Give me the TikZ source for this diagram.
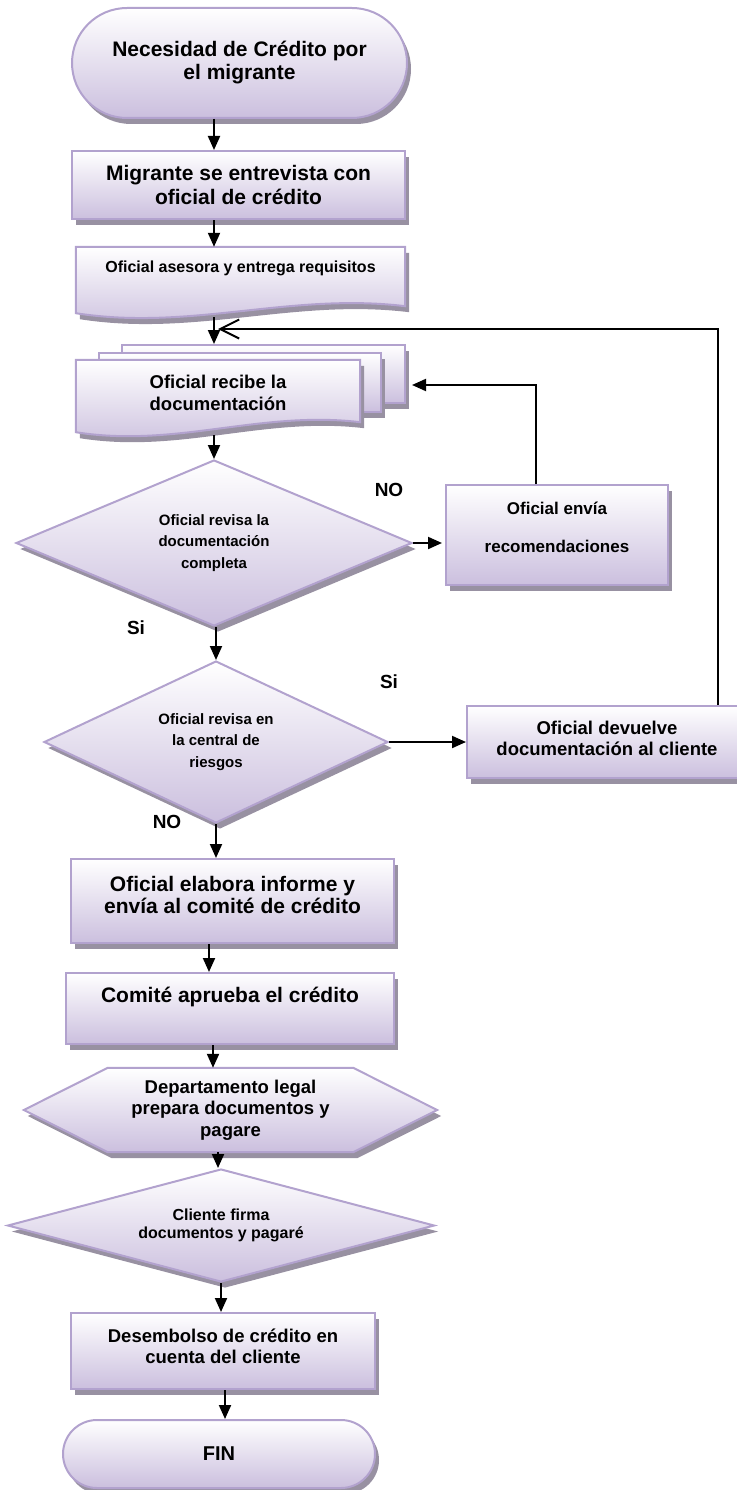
\documentclass[tikz,border=0pt]{standalone}
\usepackage{fontspec}
\setmainfont{Liberation Sans}
\usetikzlibrary{shapes.geometric, shapes.misc, shadows, arrows.meta, backgrounds}
\definecolor{borde}{RGB}{178,162,206}
\definecolor{lila}{RGB}{203,191,222}
\definecolor{sombra}{RGB}{152,145,162}

\begin{document}
\begin{tikzpicture}[x=1pt, y=-1pt,
  caja/.style={draw=borde, line width=2pt, top color=white, bottom color=lila,
    drop shadow={shadow xshift=4pt, shadow yshift=-6pt, fill=sombra, opacity=1}},
  fs/.style 2 args={font=\bfseries\fontsize{#1}{#2}\selectfont},
  rect/.style={caja, rectangle, inner sep=0pt},
  term/.style={caja, rounded rectangle, inner sep=0pt, align=center},
  deci/.style={caja, diamond, aspect=2.4, inner sep=0pt, align=center},
  texto/.style={inner sep=0pt},
  etiq/.style={fs={19}{21}, inner sep=0pt},
  flecha/.style={-{Triangle[length=14pt, width=12pt]}, line width=2pt},
  vuelta/.style={-{Straight Barb[length=19pt, width=19pt]}, line width=2pt}]
  \useasboundingbox (0,0) rectangle (736,1490);

  \node[term, fs={21}{23}, minimum width=335pt, minimum height=110pt] (inicio) at (239.5,63) {Necesidad de Crédito por\\el migrante};
  \node[rect, align=center, fs={21}{24}, minimum width=333pt, minimum height=68pt] (entrevista) at (238.5,185) {Migrante se entrevista con\\oficial de crédito};
  \node[texto, fs={16}{18}, minimum width=329pt, minimum height=66pt, text height=12pt, text depth=26.6pt] (asesora) at (240.5,280) {Oficial asesora y entrega requisitos};
  \node[texto, align=center, fs={18.5}{22}, minimum width=284pt, minimum height=72pt, text depth=6pt] (recibe) at (218,396) {Oficial recibe la\\documentación};
  \node[deci, fs={15}{21.5}, minimum width=396pt, minimum height=166pt] (rev1) at (214,543) {Oficial revisa la\\documentación\\completa};
  \node[rect, align=center, fs={17}{38}, minimum width=222pt, minimum height=100pt, text depth=16pt] (envia) at (557,535) {Oficial envía\\recomendaciones};
  \node[deci, fs={15}{21.5}, minimum width=344pt, minimum height=162pt] (rev2) at (216,742) {Oficial revisa en\\la central de\\riesgos};
  \node[rect, align=center, fs={18.5}{21}, minimum width=280pt, minimum height=72pt, text depth=8pt] (devuelve) at (607,742) {Oficial devuelve\\documentación al cliente};
  \node[rect, align=center, fs={21}{22.5}, minimum width=323pt, minimum height=84pt, text depth=12pt] (elabora) at (232.5,901) {Oficial elabora informe y\\envía al comité de crédito};
  \node[rect, fs={21}{23}, minimum width=328pt, minimum height=71pt, text height=15pt, text depth=27pt] (comite) at (230,1008.5) {Comité aprueba el crédito};
  \node[texto, align=center, fs={18.5}{21.5}, minimum width=413pt, minimum height=84pt] (legal) at (230.5,1110) {Departamento legal\\prepara documentos y\\pagare};
  \node[deci, fs={16}{18}, minimum width=427pt, minimum height=113pt] (firma) at (221,1225.5) {Cliente firma\\documentos y pagaré};
  \node[rect, align=center, fs={18.5}{21}, minimum width=304pt, minimum height=76pt, text depth=10pt] (desembolso) at (223,1351) {Desembolso de crédito en\\cuenta del cliente};
  \node[term, fs={20}{22}, minimum width=312pt, minimum height=68pt] (fin) at (219,1454) {FIN};

  \node[etiq] (no1) at (389,490) {NO};
  \node[etiq] (si1) at (136,628) {Si};
  \node[etiq] (si2) at (389,682) {Si};
  \node[etiq] (no2) at (167,822) {NO};

  \begin{scope}[on background layer]
    \node[rect, minimum width=283pt, minimum height=58pt] (pilaA) at (263.5,374) {};
    \node[rect, minimum width=282pt, minimum height=59pt] (pilaB) at (240,382.5) {};
    \path[caja] (recibe.north west) -- (recibe.north east) -- ([yshift=10pt]recibe.south east)
      .. controls +(-100,-12) and +(100,16) .. (recibe.south west) -- cycle;
    \path[caja] (asesora.north west) -- (asesora.north east) -- ([yshift=7pt]asesora.south east)
      .. controls +(-115,-14) and +(115,18) .. (asesora.south west) -- cycle;
    \path[caja] (legal.west) -- ([xshift=84pt]legal.north west) -- ([xshift=-84pt]legal.north east)
      -- (legal.east) -- ([xshift=-84pt]legal.south east) -- ([xshift=84pt]legal.south west) -- cycle;
  \end{scope}

  \coordinate (subida) at (536,385);
  \coordinate (retorno) at (718,329);
  \coordinate (union) at (218,329);

  \foreach \a/\b/\x/\s in {inicio/entrevista/214/0, entrevista/asesora/214/0, asesora/pilaA/214/4,
      recibe/rev1/214/3, rev1/rev2/216/0, rev2/elabora/216/0, elabora/comite/209/0,
      comite/legal/213/0, legal/firma/218/0, firma/desembolso/221/0, desembolso/fin/225/0}
  {
    \coordinate (col) at (\x,0);
    \draw[flecha, shorten <=\s pt] (col |- \a.south) -- (col |- \b.north);
  }
  \draw[flecha, shorten >=3pt] (rev1.east) -- (rev1.east -| envia.west);
  \draw[flecha] (rev2.east) -- (rev2.east -| devuelve.west);
  \draw[flecha, shorten >=6pt] (subida |- envia.north) -- (subida) -- (subida -| pilaA.east);
  \draw[vuelta] (retorno |- devuelve.north) -- (retorno) -- (union);
\end{tikzpicture}
\end{document}
